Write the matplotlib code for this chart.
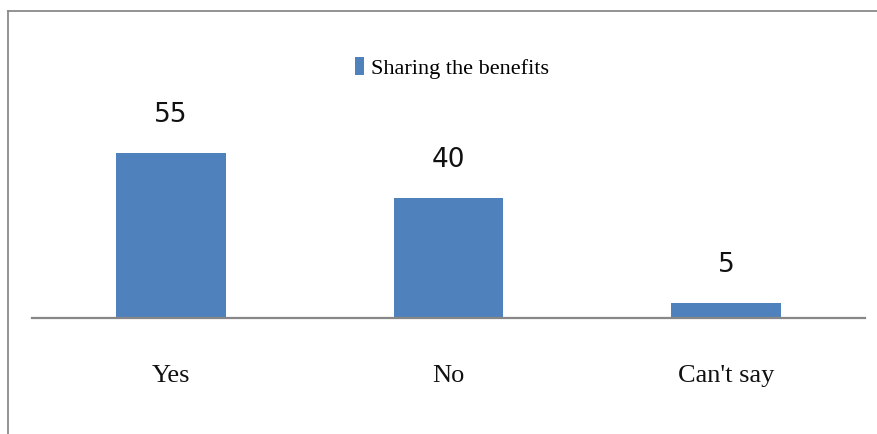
import matplotlib
matplotlib.use("Agg")
import matplotlib.pyplot as plt
from matplotlib.lines import Line2D

categories = ["Yes", "No", "Can't say"]
values = [55, 40, 5]
series_name = "Sharing the benefits"

bar_color = "#4F81BD"
serif = ["Liberation Serif", "DejaVu Serif"]
narrow = ["Liberation Sans Narrow", "DejaVu Sans Condensed", "DejaVu Sans"]

W, H = 877, 434
fig = plt.figure(figsize=(W / 100, H / 100), dpi=100)

# plot area in pixel terms: x 32..865, baseline at y=318, 3 px per unit
left, right = 32 / W, 865 / W
bottom = (H - 318) / H
height = 270 / H
ax = fig.add_axes([left, bottom, right - left, height])

x = range(len(categories))
bars = ax.bar(x, values, width=0.395, color=bar_color, label=series_name, zorder=2)

ax.set_xlim(-0.5, len(categories) - 0.5)
ax.set_ylim(0, 90)

for xi, v in zip(x, values):
    ax.annotate(str(v), (xi, v), xytext=(0, 18), textcoords="offset points",
                ha="center", va="bottom", fontsize=19, family=narrow, color="#111111")

ax.set_xticks(list(x))
ax.set_xticklabels(categories, fontfamily=serif, fontsize=19, color="#111111")
ax.tick_params(axis="x", length=0, pad=34)
ax.set_yticks([])

for side in ("top", "right", "left"):
    ax.spines[side].set_visible(False)
ax.spines["bottom"].set_color("#878787")
ax.spines["bottom"].set_linewidth(1.6)

leg = ax.legend(loc="center", bbox_to_anchor=((452 - 32) / 833, (318 - 68) / 270),
                frameon=False, prop={"family": serif, "size": 16},
                handlelength=0.42, handleheight=0.85, handletextpad=0.3)

# chart frame (left and top edges)
fig.add_artist(Line2D([8 / W, 8 / W], [0, 1 - 11 / H], color="#8a8a8a", lw=1.3))
fig.add_artist(Line2D([8 / W, 1], [1 - 11 / H, 1 - 11 / H], color="#8a8a8a", lw=1.3))

fig.savefig("out.png", dpi=100)
